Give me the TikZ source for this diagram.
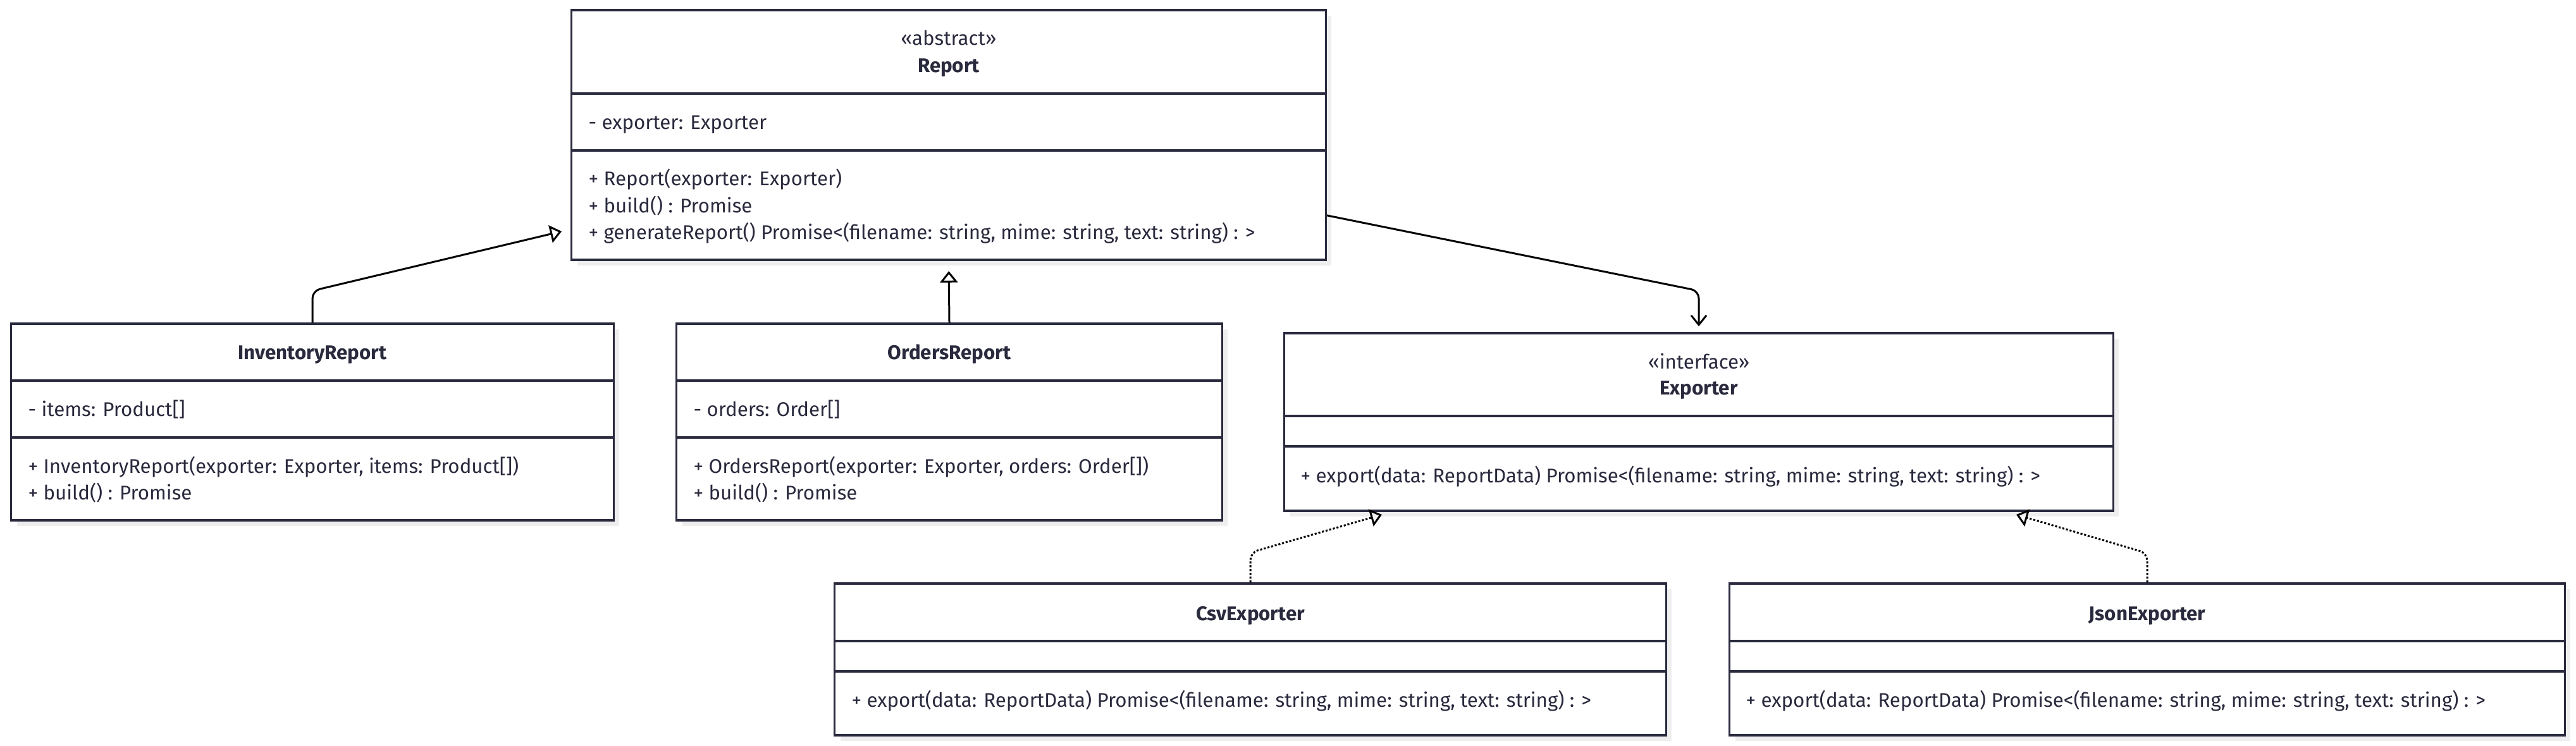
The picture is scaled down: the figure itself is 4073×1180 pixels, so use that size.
\documentclass[tikz,border=0pt]{standalone}
\usepackage{fontspec}
\setmainfont{Fira Sans}
\usetikzlibrary{arrows.meta, shadows}
\definecolor{umlline}{RGB}{42,42,62}
\definecolor{umlshadow}{RGB}{238,238,238}
\tikzset{
  classbox/.style={draw=umlline, line width=0.95pt, fill=white, inner sep=0pt,
    drop shadow={shadow xshift=0.09cm, shadow yshift=-0.09cm, fill=umlshadow, opacity=1}},
  divider/.style={draw=umlline, line width=0.95pt},
  member/.style={anchor=west, inner sep=0pt, text=umlline, text height=0.7em, text depth=0.2em,
    font=\fontsize{8.9}{11}\selectfont},
  cname/.style={member, anchor=center, font=\fontsize{8.9}{11}\selectfont\bfseries},
  stereo/.style={member, anchor=center},
  inherit/.style={line width=0.85pt, rounded corners=0.12cm,
    -{Triangle[open, length=0.18cm, width=0.28cm]}},
  realize/.style={inherit, dash pattern=on 0.9pt off 0.8pt},
  assoc/.style={line width=0.85pt, rounded corners=0.12cm,
    -{Straight Barb[length=0.15cm, width=0.24cm]}}
}

\begin{document}
\begin{tikzpicture}[x=0.01cm, y=-0.01cm]
\useasboundingbox (0,0) rectangle (4073,1180);

% class boxes
\node[classbox, minimum width=11.92cm, minimum height=3.95cm] (report) at (1500,213.5) {};
\node[classbox, minimum width=9.52cm, minimum height=3.11cm] (inventory) at (494,667.5) {};
\node[classbox, minimum width=8.62cm, minimum height=3.11cm] (orders) at (1501,667.5) {};
\node[classbox, minimum width=13.10cm, minimum height=2.81cm] (exporter) at (2686,667.5) {};
\node[classbox, minimum width=13.14cm, minimum height=2.40cm] (csv) at (1977,1043) {};
\node[classbox, minimum width=13.20cm, minimum height=2.40cm] (json) at (3395,1043) {};

% compartments
\draw[divider] (904,148) -- (2096,148) (904,238) -- (2096,238);
\draw[divider] (18,602) -- (970,602) (18,692) -- (970,692);
\draw[divider] (1070,602) -- (1932,602) (1070,692) -- (1932,692);
\draw[divider] (2031,658) -- (3341,658) (2031,706) -- (3341,706);
\draw[divider] (1320,1014) -- (2634,1014) (1320,1062) -- (2634,1062);
\draw[divider] (2735,1014) -- (4055,1014) (2735,1062) -- (4055,1062);

% Report
\node[stereo] (report-st) at (1500,63) {«abstract»};
\node[cname] (report-name) at (1500,106) {Report};
\node[member] (report-a1) at (930,196) {- exporter: Exporter};
\node[member] (report-m1) at (930,285) {+ Report(exporter: Exporter)};
\node[member] (report-m2) at (930,328) {+ build() : Promise};
\node[member] (report-m3) at (930,370) {+ generateReport() Promise<(filename: string, mime: string, text: string) : >};

% InventoryReport
\node[cname] (inventory-name) at (494,560) {InventoryReport};
\node[member] (inventory-a1) at (44,650) {- items: Product[]};
\node[member] (inventory-m1) at (44,740) {+ InventoryReport(exporter: Exporter, items: Product[])};
\node[member] (inventory-m2) at (44,782) {+ build() : Promise};

% OrdersReport
\node[cname] (orders-name) at (1501,560) {OrdersReport};
\node[member] (orders-a1) at (1096,650) {- orders: Order[]};
\node[member] (orders-m1) at (1096,740) {+ OrdersReport(exporter: Exporter, orders: Order[])};
\node[member] (orders-m2) at (1096,782) {+ build() : Promise};

% Exporter
\node[stereo] (exporter-st) at (2686,575) {«interface»};
\node[cname] (exporter-name) at (2686,616) {Exporter};
\node[member] (exporter-m1) at (2056,755) {+ export(data: ReportData) Promise<(filename: string, mime: string, text: string) : >};

% CsvExporter
\node[cname] (csv-name) at (1977,973) {CsvExporter};
\node[member] (csv-m1) at (1346,1110) {+ export(data: ReportData) Promise<(filename: string, mime: string, text: string) : >};

% JsonExporter
\node[cname] (json-name) at (3395,973) {JsonExporter};
\node[member] (json-m1) at (2760,1110) {+ export(data: ReportData) Promise<(filename: string, mime: string, text: string) : >};

% relations
\coordinate (inv-bend) at (494,460);
\coordinate (report-in) at (888,366);
\coordinate (exp-bend) at (2686,460);
\coordinate (csv-bend) at (1977,874);
\coordinate (exp-in-l) at (2185,814);
\coordinate (json-bend) at (3395,875);
\coordinate (exp-in-r) at (3188,814);
\draw[inherit] (inventory.north) -- (inv-bend) -- (report-in);
\draw[inherit, shorten >=0.16cm] (orders.north) -- (report.south);
\draw[assoc, shorten >=0.09cm] ([yshift=0.72cm]report.south east) -- (exp-bend) -- (exporter.north);
\draw[realize] (csv.north) -- (csv-bend) -- (exp-in-l);
\draw[realize] (json.north) -- (json-bend) -- (exp-in-r);
\end{tikzpicture}
\end{document}
